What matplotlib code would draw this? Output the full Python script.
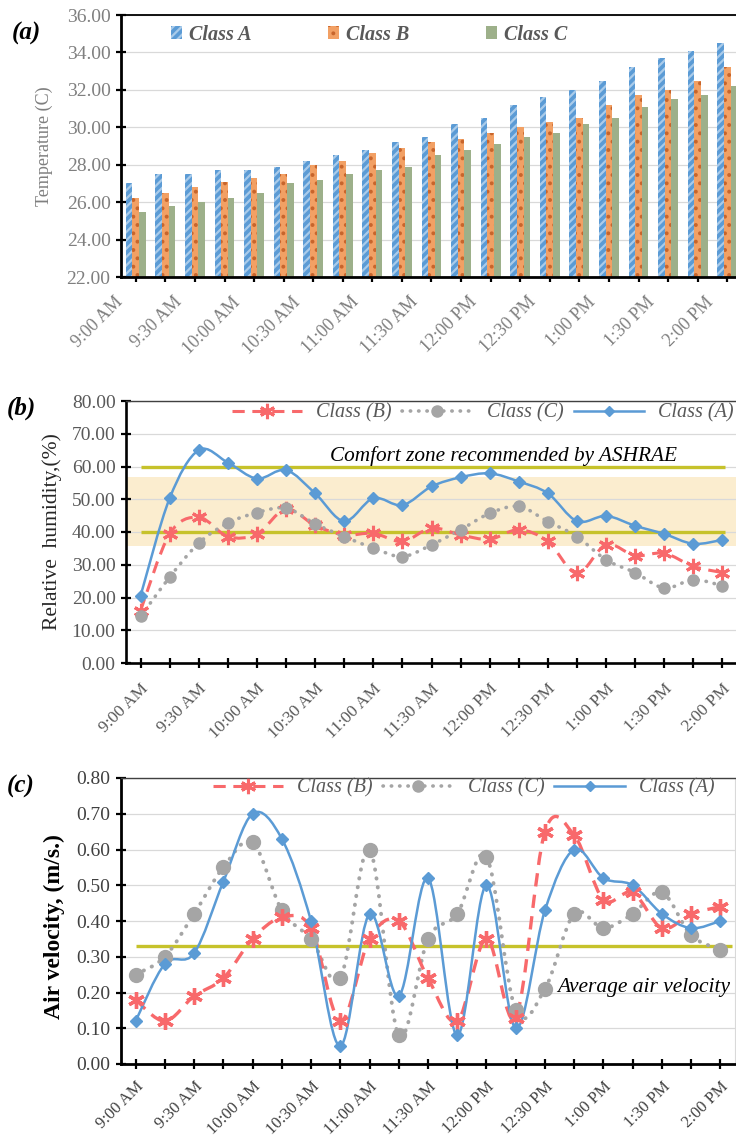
import numpy as np
import matplotlib
matplotlib.use("Agg")
import matplotlib.pyplot as plt
from matplotlib.path import Path
from matplotlib.patches import PathPatch
from matplotlib.lines import Line2D
from matplotlib.transforms import ScaledTranslation

plt.rcParams["font.family"] = ["Liberation Serif", "DejaVu Serif"]
plt.rcParams["hatch.linewidth"] = 1.6

# ---- data -------------------------------------------------------------
times = ["9:00 AM", "9:15 AM", "9:30 AM", "9:45 AM", "10:00 AM", "10:15 AM",
         "10:30 AM", "10:45 AM", "11:00 AM", "11:15 AM", "11:30 AM", "11:45 AM",
         "12:00 PM", "12:15 PM", "12:30 PM", "12:45 PM", "1:00 PM", "1:15 PM",
         "1:30 PM", "1:45 PM", "2:00 PM"]

temp_a = [27.0, 27.5, 27.5, 27.7, 27.7, 27.9, 28.2, 28.5, 28.8, 29.2, 29.5,
          30.2, 30.5, 31.2, 31.6, 32.0, 32.5, 33.2, 33.7, 34.1, 34.5]
temp_b = [26.2, 26.5, 26.8, 27.1, 27.3, 27.5, 28.0, 28.2, 28.6, 28.9, 29.2,
          29.4, 29.7, 30.0, 30.3, 30.5, 31.2, 31.7, 32.0, 32.5, 33.2]
temp_c = [25.5, 25.8, 26.0, 26.2, 26.5, 27.0, 27.2, 27.5, 27.7, 27.9, 28.5,
          28.8, 29.1, 29.5, 29.7, 30.2, 30.5, 31.1, 31.5, 31.7, 32.2]

rh_a = [20.5, 50.3, 65.0, 61.2, 56.3, 58.9, 51.8, 43.3, 50.3, 48.2, 53.9,
        56.7, 57.9, 55.4, 51.8, 43.3, 44.9, 41.9, 39.4, 36.4, 37.6]
rh_b = [16.0, 39.4, 44.5, 38.6, 39.4, 47.0, 42.0, 39.1, 39.6, 37.1, 41.2,
        39.1, 37.8, 40.7, 37.1, 27.4, 36.1, 32.8, 33.5, 29.5, 27.6]
rh_c = [14.2, 26.2, 36.6, 42.7, 45.9, 47.3, 42.5, 38.6, 35.1, 32.5, 36.1,
        40.7, 45.7, 47.8, 43.2, 38.6, 31.5, 27.6, 22.9, 25.4, 23.6]
comfort_band = (35.6, 56.8)
comfort_lines = [60, 40]

vel_a = [0.12, 0.28, 0.31, 0.51, 0.70, 0.63, 0.40, 0.05, 0.42, 0.19, 0.52,
         0.08, 0.50, 0.10, 0.43, 0.60, 0.52, 0.50, 0.42, 0.38, 0.40]
vel_b = [0.18, 0.12, 0.19, 0.24, 0.35, 0.41, 0.38, 0.12, 0.35, 0.40, 0.24,
         0.12, 0.35, 0.13, 0.65, 0.64, 0.46, 0.48, 0.38, 0.42, 0.44]
vel_c = [0.25, 0.30, 0.42, 0.55, 0.62, 0.43, 0.35, 0.24, 0.60, 0.08, 0.35,
         0.42, 0.58, 0.15, 0.21, 0.42, 0.38, 0.42, 0.48, 0.36, 0.32]
avg_vel = 0.33

# ---- styles -----------------------------------------------------------
BLUE = "#5B9BD5"
RED = "#F8696B"
GRAY = "#A5A5A5"
YEL = "#C6C22B"
GRID = "#D9D9D9"
TXT = "#595959"

W, H = 736, 1138
fig = plt.figure(figsize=(W / 100, H / 100), dpi=100)


def box(l, t, r, b):
    return [l / W, 1 - b / H, (r - l) / W, (b - t) / H]


def smooth_path(x, y):
    # excel-like smoothed line: bezier segments through the data points
    n = len(x)
    verts, codes = [(x[0], y[0])], [Path.MOVETO]
    for i in range(n - 1):
        xp, yp = (x[i - 1], y[i - 1]) if i > 0 else (x[i], y[i])
        xn, yn = (x[i + 2], y[i + 2]) if i + 2 < n else (x[i + 1], y[i + 1])
        c1 = (x[i] + (x[i + 1] - xp) / 6, y[i] + (y[i + 1] - yp) / 6)
        c2 = (x[i + 1] - (xn - x[i]) / 6, y[i + 1] - (yn - y[i]) / 6)
        verts += [c1, c2, (x[i + 1], y[i + 1])]
        codes += [Path.CURVE4] * 3
    return Path(verts, codes)


def style_axes(ax, ylabels_color, spine_w=1.9):
    ax.set_axisbelow(True)
    ax.grid(axis="y", color=GRID, linewidth=0.9)
    ax.grid(axis="x", visible=False)
    ax.spines["left"].set_linewidth(spine_w)
    ax.spines["bottom"].set_linewidth(spine_w)
    ax.spines["left"].set_color("black")
    ax.spines["bottom"].set_color("black")
    ax.spines["top"].set_linewidth(1.0)
    ax.spines["top"].set_color("#404040")
    ax.spines["right"].set_linewidth(0.8)
    ax.spines["right"].set_color("#D9D9D9")
    ax.tick_params(axis="both", direction="inout", length=7, width=1.6,
                   color="black")
    ax.tick_params(axis="y", labelsize=14, labelcolor=ylabels_color, pad=4)
    ax.tick_params(axis="x", labelsize=12.5, labelcolor=TXT, pad=7)


def shift_labels(ax, dx_px, dy_px=0):
    off = ScaledTranslation(dx_px / 100, dy_px / 100, fig.dpi_scale_trans)
    for lab in ax.get_xticklabels():
        lab.set_transform(lab.get_transform() + off)


x = np.arange(len(times))
xlabels = [t if i % 2 == 0 else "" for i, t in enumerate(times)]

# ---- (a) temperature bars ---------------------------------------------
ax1 = fig.add_axes(box(121, 15, 742, 277))
bw = 0.225
ba = ax1.bar(x - bw, temp_a, bw, color=BLUE, edgecolor="#A9CBEA",
             hatch="////", linewidth=0, label="Class A")
bb = ax1.bar(x, temp_b, bw, color="#F2A064", edgecolor="#C8652C",
             hatch="..", linewidth=0, label="Class B")
bc = ax1.bar(x + bw, temp_c, bw, color="#9DB08A", linewidth=0,
             label="Class C")
ax1.set_ylim(22, 36)
ax1.set_yticks(np.arange(22, 36.1, 2))
ax1.set_xlim(-0.5, 20.5)
style_axes(ax1, "#7F7F7F", spine_w=2.0)
ax1.spines["top"].set_color("black")
ax1.spines["top"].set_linewidth(1.3)
ax1.spines["right"].set_visible(False)
ax1.yaxis.set_major_formatter(plt.FormatStrFormatter("%.2f"))
ax1.set_xticks(x)
ax1.set_xticklabels(xlabels, rotation=45, ha="right", rotation_mode="anchor",
                    color="#7F7F7F", fontsize=13)
shift_labels(ax1, -22, -2)
ax1.set_ylabel("Temperature (C)", fontsize=13, color="#7F7F7F")
ax1.yaxis.set_label_coords(-0.11, 0.5)
ax1.legend(handles=[ba, bb, bc], loc="center", bbox_to_anchor=(0.399, 0.925),
           ncol=3, frameon=False, handlelength=0.55, handleheight=0.55,
           handletextpad=0.35, columnspacing=3.8,
           prop={"size": 14.5, "style": "italic", "weight": "bold"},
           labelcolor=TXT)

# ---- (b) relative humidity --------------------------------------------
ax2 = fig.add_axes(box(126, 401, 737, 663))
ax2.axhspan(*comfort_band, color="#FBEDCF", zorder=0.2, linewidth=0)
for lv in comfort_lines:
    ax2.plot([0, 20.1], [lv, lv], color=YEL, linewidth=2.4, zorder=2,
             solid_capstyle="butt")

ax2.add_patch(PathPatch(smooth_path(x, rh_b), fill=False, edgecolor=RED,
                        linewidth=2.2, linestyle=(0, (4, 2.5)), zorder=3))
ax2.add_patch(PathPatch(smooth_path(x, rh_c), fill=False, edgecolor=GRAY,
                        linewidth=2.6, linestyle=(0, (0.1, 2.2)),
                        capstyle="round", zorder=3))
ax2.add_patch(PathPatch(smooth_path(x, rh_a), fill=False, edgecolor=BLUE,
                        linewidth=1.8, zorder=4))
ax2.plot(x, rh_b, ls="none", marker=(6, 2, 0), ms=11, mew=2.2, color=RED,
         zorder=5)
ax2.plot(x, rh_c, ls="none", marker="o", ms=8, color=GRAY, zorder=5)
ax2.plot(x, rh_a, ls="none", marker="D", ms=6, color=BLUE, zorder=6)

ax2.set_ylim(0, 80)
ax2.set_yticks(np.arange(0, 80.1, 10))
ax2.set_xlim(-0.5, 20.5)
style_axes(ax2, TXT)
ax2.yaxis.set_major_formatter(plt.FormatStrFormatter("%.2f"))
ax2.set_xticks(x)
ax2.set_xticklabels(xlabels, rotation=45, ha="right", rotation_mode="anchor")
shift_labels(ax2, 0, -3)
ax2.set_ylabel("Relative  humidity,(%)", fontsize=15.5, color="#262626")
ax2.yaxis.set_label_coords(-0.105, 0.5)
ax2.text(6.5, 61.6, "Comfort zone recommended by ASHRAE", fontsize=15.3,
         style="italic", color="black", ha="left", va="baseline", zorder=7)

leg_handles = [
    Line2D([], [], color=RED, lw=2.2, ls=(0, (4, 2.5)), marker=(6, 2, 0),
           ms=11, mew=2.2),
    Line2D([], [], color=GRAY, lw=2.6, ls=(0, (0.1, 2.2)),
           dash_capstyle="round", marker="o", ms=8),
    Line2D([], [], color=BLUE, lw=1.8, marker="D", ms=5),
]
leg_labels = ["Class (B)", "Class (C)", "Class (A)"]
ax2.legend(leg_handles, leg_labels, loc="center", bbox_to_anchor=(0.584, 0.953),
           ncol=3, frameon=False, handlelength=3.5, handletextpad=0.7,
           columnspacing=0.5, prop={"size": 14.5, "style": "italic"},
           labelcolor=TXT)

# ---- (c) air velocity --------------------------------------------------
ax3 = fig.add_axes(box(121, 778, 735, 1064))
ax3.plot([0, 20.4], [avg_vel, avg_vel], color=YEL, linewidth=2.4, zorder=2,
         solid_capstyle="butt")
ax3.add_patch(PathPatch(smooth_path(x, vel_c), fill=False, edgecolor=GRAY,
                        linewidth=2.8, linestyle=(0, (0.1, 2.2)),
                        capstyle="round", zorder=3))
ax3.add_patch(PathPatch(smooth_path(x, vel_b), fill=False, edgecolor=RED,
                        linewidth=2.4, linestyle=(0, (4, 2.5)), zorder=3))
ax3.add_patch(PathPatch(smooth_path(x, vel_a), fill=False, edgecolor=BLUE,
                        linewidth=1.8, zorder=4))
ax3.plot(x, vel_c, ls="none", marker="o", ms=10, color=GRAY, zorder=5)
ax3.plot(x, vel_b, ls="none", marker=(6, 2, 0), ms=12, mew=2.4, color=RED,
         zorder=5)
ax3.plot(x, vel_a, ls="none", marker="D", ms=6.5, color=BLUE, zorder=6)

ax3.set_ylim(0, 0.8)
ax3.set_yticks(np.arange(0, 0.81, 0.1))
ax3.set_xlim(-0.5, 20.5)
style_axes(ax3, "#404040", spine_w=2.0)
ax3.yaxis.set_major_formatter(plt.FormatStrFormatter("%.2f"))
ax3.set_xticks(x)
ax3.set_xticklabels(xlabels, rotation=45, ha="right", rotation_mode="anchor",
                    color="#404040", fontsize=12)
ax3.set_ylabel("Air velocity, (m/s.)", fontsize=17, fontweight="bold",
               color="black")
ax3.yaxis.set_label_coords(-0.091, 0.48)
ax3.text(14.42, 0.202, "Average air velocity", fontsize=15.5, style="italic",
         color="black", ha="left", va="baseline", zorder=7)
ax3.legend(leg_handles, leg_labels, loc="center", bbox_to_anchor=(0.558, 0.965),
           ncol=3, frameon=False, handlelength=3.5, handletextpad=0.7,
           columnspacing=0.5, prop={"size": 14.5, "style": "italic"},
           labelcolor=TXT)

# ---- panel tags -------------------------------------------------------
for tag, tx, ty in [("(a)", 12, 33), ("(b)", 7, 408), ("(c)", 7, 786)]:
    fig.text(tx / W, 1 - ty / H, tag, fontsize=18, fontweight="bold",
             style="italic", ha="left", va="center")

fig.savefig("out.png", dpi=100, facecolor="white")
